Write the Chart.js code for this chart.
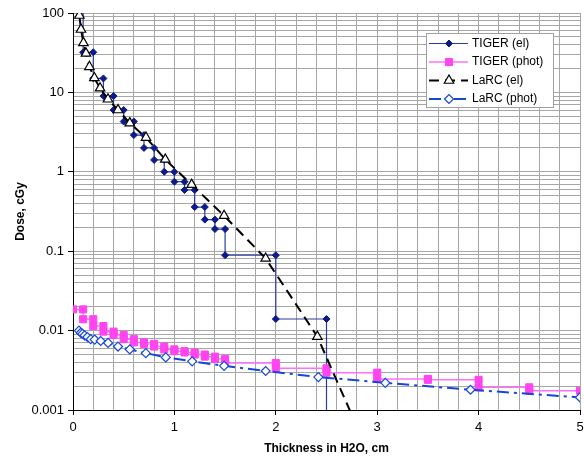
<!DOCTYPE html>
<html>
<head>
<meta charset="utf-8">
<title>Dose vs thickness</title>
<script src="https://cdn.jsdelivr.net/npm/chart.js@4.4.0/dist/chart.umd.min.js"></script>
<style>
    html, body { margin: 0; padding: 0; background: #fff; }
    #doseChart { display: block; }
</style>
</head>
<body>
<canvas id="doseChart" width="584" height="461"></canvas>
<script>
// TIGER results are histograms: bin edges (cm) and dose in each bin (cGy)
const tigerElEdges = [0, 0.1, 0.2, 0.3, 0.4, 0.5, 0.6, 0.7, 0.8, 0.9, 1.0, 1.1, 1.2, 1.3, 1.4, 1.5, 2.0, 2.5, 3.0];
const tigerElDose = [200, 32, 15, 9, 6, 4.3, 2.9, 2.0, 1.41, 1.0, 0.75, 0.59, 0.36, 0.25, 0.19, 0.089, 0.014, 0.0005];

const tigerPhotEdges = [0, 0.1, 0.2, 0.3, 0.4, 0.5, 0.6, 0.7, 0.8, 0.9, 1.0, 1.1, 1.2, 1.3, 1.4, 1.5, 2.0, 2.5, 3.0, 3.5, 4.0, 4.5, 5.0];
const tigerPhotDose = [0.0185, 0.0139, 0.0114, 0.0097, 0.0088, 0.0078, 0.0071, 0.0068, 0.0063, 0.0058, 0.0055, 0.0053, 0.0050, 0.0047, 0.0044, 0.0039, 0.00335, 0.00295, 0.00246, 0.0024, 0.00193, 0.00175];

// LaRC results are point values
const larcElDepth = [0.063, 0.079, 0.103, 0.128, 0.162, 0.211, 0.267, 0.345, 0.444, 0.56, 0.72, 0.91, 1.17, 1.49, 1.90, 2.41, 2.8];
const larcElDose = [93, 62, 42, 31, 21, 15.2, 11.3, 8.2, 6.0, 4.1, 2.7, 1.43, 0.69, 0.28, 0.081, 0.0084, 0.00062];

const larcPhotDepth = [0.059, 0.076, 0.093, 0.115, 0.142, 0.175, 0.214, 0.273, 0.346, 0.444, 0.56, 0.718, 0.915, 1.175, 1.49, 1.90, 2.42, 3.08, 3.92, 5.0];
const larcPhotDose = [0.0100, 0.0094, 0.0091, 0.0087, 0.0083, 0.0078, 0.0077, 0.0074, 0.0070, 0.0063, 0.0058, 0.0052, 0.0046, 0.0041, 0.0036, 0.0031, 0.0026, 0.0022, 0.0018, 0.00144];

const xTickLabels = [0, 1, 2, 3, 4, 5];
const yTickLabels = [0.001, 0.01, 0.1, 1, 10, 100];

// turn histogram bins into step points
function steps(edges, dose) {
    const pts = [];
    dose.forEach(function(d, i) {
        pts.push({ x: edges[i], y: d });
        pts.push({ x: edges[i + 1], y: d });
    });
    return pts;
}

function pairs(xs, ys) {
    return xs.map(function(x, i) { return { x: x, y: ys[i] }; });
}

// legend drawn inside the plot, Excel style
const boxLegend = {
    id: 'boxLegend',
    afterDraw: function(chart) {
        const ctx = chart.ctx;
        const left = 426, top = 33, width = 127, height = 74;
        ctx.save();
        ctx.fillStyle = '#fff';
        ctx.fillRect(left, top, width, height);
        ctx.strokeStyle = '#a0a0a0';
        ctx.lineWidth = 1;
        ctx.strokeRect(left + 0.5, top + 0.5, width, height);

        chart.data.datasets.forEach(function(ds, i) {
            const y = top + 10.5 + i * 18.5;
            ctx.setLineDash(ds.borderDash || []);
            ctx.strokeStyle = ds.borderColor;
            ctx.lineWidth = ds.borderWidth;
            ctx.beginPath();
            ctx.moveTo(429, y);
            ctx.lineTo(468, y);
            ctx.stroke();
            ctx.setLineDash([]);

            ctx.fillStyle = ds.pointBackgroundColor;
            ctx.strokeStyle = ds.pointBorderColor;
            ctx.lineWidth = ds.pointBorderWidth;
            Chart.helpers.drawPoint(ctx, {
                pointStyle: ds.pointStyle,
                radius: ds.pointRadius,
                rotation: 0,
                borderWidth: ds.pointBorderWidth
            }, 449, y);

            ctx.fillStyle = '#000';
            ctx.font = '12px "Liberation Sans", Arial, sans-serif';
            ctx.textBaseline = 'middle';
            ctx.textAlign = 'left';
            ctx.fillText(ds.label, 472, y);
        });
        ctx.restore();
    }
};

const ctx = document.getElementById('doseChart').getContext('2d');
const doseChart = new Chart(ctx, {
    type: 'scatter',
    data: {
        datasets: [
            {
                label: 'TIGER (el)',
                data: steps(tigerElEdges, tigerElDose),
                showLine: true,
                borderColor: '#2b3c9e',
                borderWidth: 1.2,
                pointStyle: 'rectRot',
                pointRadius: 3.5,
                pointBackgroundColor: '#0c1a8a',
                pointBorderColor: '#0c1a8a',
                pointBorderWidth: 1,
                order: 4
            },
            {
                label: 'TIGER (phot)',
                data: steps(tigerPhotEdges, tigerPhotDose),
                showLine: true,
                borderColor: '#ff70ff',
                borderWidth: 1.5,
                pointStyle: 'rect',
                pointRadius: 5,
                pointBackgroundColor: '#ff44f0',
                pointBorderColor: '#ff44f0',
                pointBorderWidth: 1,
                order: 3
            },
            {
                label: 'LaRC (el)',
                data: pairs(larcElDepth, larcElDose),
                showLine: true,
                borderColor: '#000',
                borderWidth: 2,
                borderDash: [10, 6],
                pointStyle: 'triangle',
                pointRadius: 5.5,
                pointBackgroundColor: '#fff',
                pointBorderColor: '#000',
                pointBorderWidth: 1.2,
                order: 2
            },
            {
                label: 'LaRC (phot)',
                data: pairs(larcPhotDepth, larcPhotDose),
                showLine: true,
                borderColor: '#1646d8',
                borderWidth: 2,
                borderDash: [12, 5, 3, 5],
                pointStyle: 'rectRot',
                pointRadius: 4.5,
                pointBackgroundColor: '#fff',
                pointBorderColor: '#1646d8',
                pointBorderWidth: 1.2,
                order: 1
            }
        ]
    },
    options: {
        responsive: false,
        animation: false,
        layout: {
            autoPadding: false,
            padding: { top: 13, right: 4, left: 0, bottom: 0 }
        },
        plugins: {
            legend: { display: false },
            tooltip: { enabled: false }
        },
        scales: {
            x: {
                type: 'linear',
                min: 0,
                max: 5,
                afterFit: function(scale) {
                    scale.height = 51;
                    scale.paddingLeft = 0;
                    scale.paddingRight = 0;
                },
                border: { color: '#000', width: 1 },
                grid: {
                    color: '#a6a6a6',
                    tickLength: 5,
                    tickColor: function(c) {
                        return xTickLabels.includes(c.tick.value) ? '#000' : 'rgba(0,0,0,0)';
                    }
                },
                ticks: {
                    stepSize: 0.2,
                    autoSkip: false,
                    maxRotation: 0,
                    padding: 5,
                    color: '#000',
                    font: { family: '"Liberation Sans", Arial, sans-serif', size: 13 },
                    callback: function(v) {
                        return xTickLabels.includes(v) ? String(v) : '';
                    }
                },
                title: {
                    display: true,
                    text: 'Thickness in H2O, cm',
                    color: '#000',
                    padding: { top: 0, bottom: 5 },
                    font: { family: '"Liberation Sans", Arial, sans-serif', size: 12, weight: 'bold' }
                }
            },
            y: {
                type: 'logarithmic',
                min: 0.001,
                max: 100,
                afterFit: function(scale) {
                    scale.width = 73;
                    scale.paddingTop = 0;
                    scale.paddingBottom = 0;
                },
                afterBuildTicks: function(scale) {
                    const ticks = [];
                    yTickLabels.forEach(function(dec, i) {
                        if (i === yTickLabels.length - 1) {
                            ticks.push({ value: dec, major: true });
                            return;
                        }
                        for (let m = 1; m <= 9; m++) {
                            ticks.push({ value: m * dec, major: m === 1 });
                        }
                    });
                    scale.ticks = ticks;
                },
                border: { color: '#000', width: 1 },
                grid: {
                    color: '#a6a6a6',
                    tickLength: 5,
                    tickColor: function(c) {
                        return yTickLabels.includes(c.tick.value) ? '#000' : 'rgba(0,0,0,0)';
                    }
                },
                ticks: {
                    autoSkip: false,
                    padding: 4,
                    color: '#000',
                    font: { family: '"Liberation Sans", Arial, sans-serif', size: 13 },
                    callback: function(v) {
                        return yTickLabels.includes(v) ? String(v) : '';
                    }
                },
                title: {
                    display: true,
                    text: 'Dose, cGy',
                    color: '#000',
                    padding: { top: 13, bottom: 0 },
                    font: { family: '"Liberation Sans", Arial, sans-serif', size: 12, weight: 'bold' }
                }
            }
        }
    },
    plugins: [boxLegend]
});
</script>
</body>
</html>
